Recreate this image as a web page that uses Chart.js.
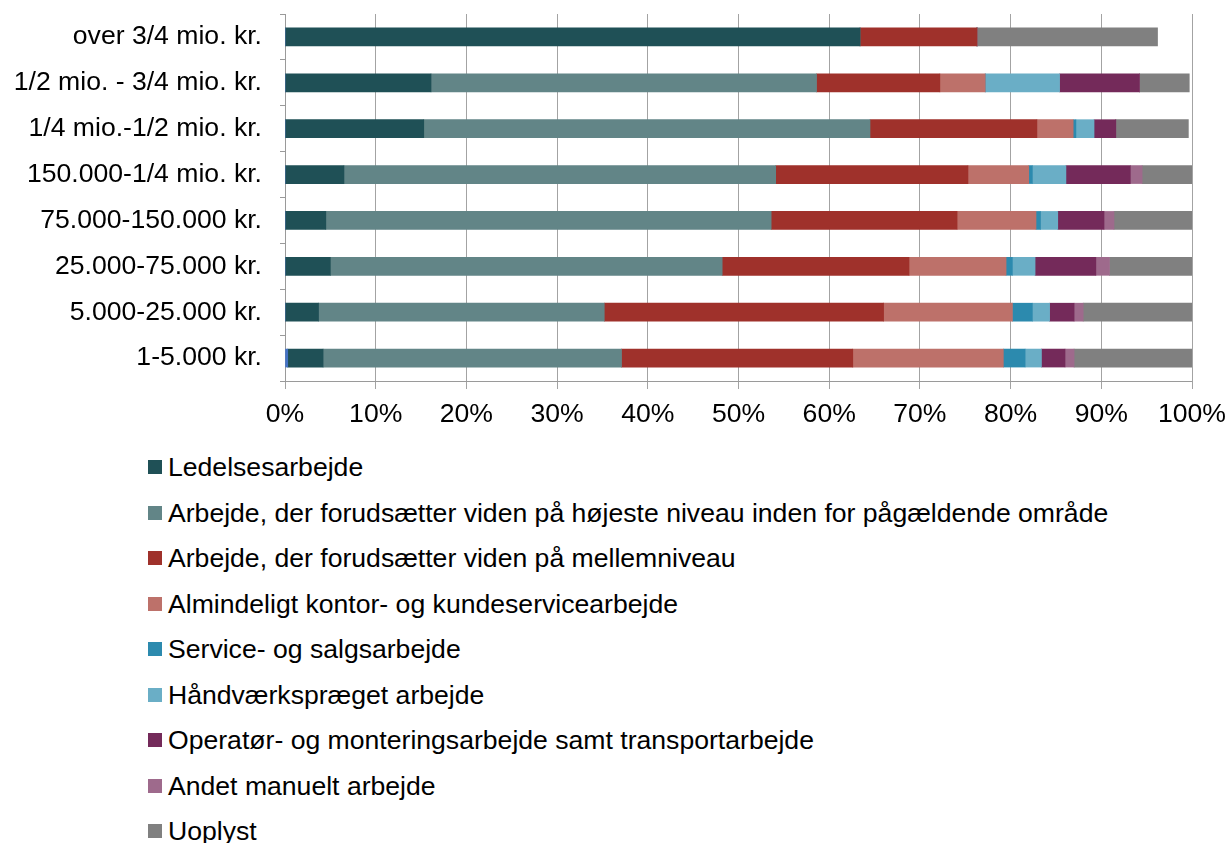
<!DOCTYPE html>
<html>
<head>
<meta charset="utf-8">
<script src="https://cdn.jsdelivr.net/npm/chart.js@4"></script>
<style>
  html, body { margin: 0; padding: 0; background: #fff; }
  #wrap { position: relative; width: 1228px; height: 843px; font-family: "Liberation Sans", Arial, sans-serif; }
  #chartBox { position: absolute; left: 0; top: 0; width: 1228px; height: 440px; }
  #legend { position: absolute; left: 148px; top: 0; }
  .item { position: absolute; left: 0; white-space: nowrap; height: 30px; line-height: 30px; font-size: 26.6px; color: #000; }
  .box { position: absolute; left: 0; top: 8px; width: 14px; height: 14px; }
  .txt { position: absolute; left: 20px; top: 0; }
</style>
</head>
<body>
<div id="wrap">
  <div id="chartBox"><canvas id="c"></canvas></div>
  <div id="legend"></div>
</div>
<script>
const categories = [
  "over 3/4 mio. kr.",
  "1/2 mio. - 3/4 mio. kr.",
  "1/4 mio.-1/2 mio. kr.",
  "150.000-1/4 mio. kr.",
  "75.000-150.000 kr.",
  "25.000-75.000 kr.",
  "5.000-25.000 kr.",
  "1-5.000 kr."
];
const xTicks = [0, 10, 20, 30, 40, 50, 60, 70, 80, 90, 100];

const seriesNames = [
  "Ledelsesarbejde",
  "Arbejde, der forudsætter viden på højeste niveau inden for pågældende område",
  "Arbejde, der forudsætter viden på mellemniveau",
  "Almindeligt kontor- og kundeservicearbejde",
  "Service- og salgsarbejde",
  "Håndværkspræget arbejde",
  "Operatør- og monteringsarbejde samt transportarbejde",
  "Andet manuelt arbejde",
  "Uoplyst"
];
const seriesColors = ["#1f5056", "#628587", "#9f312b", "#bd716a", "#2c8aae", "#6aaec6", "#742a5a", "#9e6a8c", "#808080"];

// small unlabeled sliver visible at the start of the lowest bar (not in the legend)
const sliver = [0, 0, 0, 0, 0, 0, 0, 0.3];

const ledelse   = [63.4, 16.1, 15.3, 6.5, 4.5, 5.0, 3.7, 3.9];
const hoejeste  = [0, 42.5, 49.2, 47.6, 49.1, 43.2, 31.5, 32.9];
const mellem    = [12.9, 13.6, 18.4, 21.2, 20.5, 20.6, 30.8, 25.5];
const kontor    = [0, 5.0, 4.0, 6.7, 8.7, 10.7, 14.2, 16.6];
const service   = [0, 0, 0.3, 0.4, 0.5, 0.7, 2.2, 2.4];
const haandvaerk= [0, 8.2, 2.0, 3.7, 1.9, 2.5, 1.9, 1.8];
const operatoer = [0, 8.8, 2.4, 7.1, 5.1, 6.7, 2.7, 2.6];
const manuelt   = [0, 0, 0, 1.3, 1.1, 1.5, 1.0, 1.0];
const uoplyst   = [19.9, 5.5, 8.0, 5.5, 8.6, 9.1, 12.0, 13.0];

const seriesValues = [ledelse, hoejeste, mellem, kontor, service, haandvaerk, operatoer, manuelt, uoplyst];

const FONT = { family: '"Liberation Sans", Arial, sans-serif', size: 26.6 };

const datasets = [{
  label: "",
  data: sliver,
  backgroundColor: "#4472c4",
  barThickness: 18,
  inLegend: false
}].concat(seriesNames.map((n, i) => ({
  label: n,
  data: seriesValues[i],
  backgroundColor: seriesColors[i],
  barThickness: 18,
  inLegend: true
})));

const chart = new Chart(document.getElementById('c'), {
  type: 'bar',
  data: { labels: categories, datasets: datasets },
  options: {
    indexAxis: 'y',
    responsive: true,
    maintainAspectRatio: false,
    animation: false,
    layout: { padding: { left: 0, right: 36, top: 14, bottom: 0 } },
    plugins: { legend: { display: false }, tooltip: { enabled: false } },
    scales: {
      x: {
        stacked: true,
        min: 0, max: 100,
        z: 1,
        afterBuildTicks: (s) => { s.ticks = xTicks.map(v => ({ value: v })); },
        afterFit: (s) => { s.height = 59; s.paddingLeft = 0; s.paddingRight = 0; },
        ticks: { font: FONT, color: '#000', padding: 10, callback: (v) => v + '%', maxRotation: 0, autoSkip: false },
        grid: { color: 'rgba(0,0,0,0.36)', lineWidth: 1, tickLength: 8, drawTicks: true },
        border: { display: false }
      },
      y: {
        stacked: true,
        afterFit: (s) => { s.width = 285; s.paddingTop = 0; s.paddingBottom = 0; },
        ticks: { font: FONT, color: '#000', padding: 18, autoSkip: false },
        grid: { offset: true, drawOnChartArea: false, drawTicks: true, tickLength: 5, color: '#9a9a9a' },
        border: { display: true, color: '#9a9a9a', width: 1 }
      }
    }
  },
  plugins: [{
    id: 'bottomBorder',
    afterDraw(c) {
      const ctx = c.ctx, a = c.chartArea;
      ctx.save();
      ctx.strokeStyle = '#9a9a9a';
      ctx.lineWidth = 1;
      ctx.beginPath();
      ctx.moveTo(a.left, Math.round(a.bottom) + 0.5);
      ctx.lineTo(a.right, Math.round(a.bottom) + 0.5);
      ctx.stroke();
      ctx.restore();
    }
  }]
});

// legend built from the chart's datasets
const legend = document.getElementById('legend');
let row = 0;
chart.data.datasets.forEach(ds => {
  if (!ds.inLegend) return;
  const centerY = 467 + row * 45.5;
  const it = document.createElement('div');
  it.className = 'item';
  it.style.top = (centerY - 15) + 'px';
  const b = document.createElement('div');
  b.className = 'box';
  b.style.background = ds.backgroundColor;
  const t = document.createElement('span');
  t.className = 'txt';
  t.textContent = ds.label;
  it.appendChild(b); it.appendChild(t);
  legend.appendChild(it);
  row++;
});
</script>
</body>
</html>
